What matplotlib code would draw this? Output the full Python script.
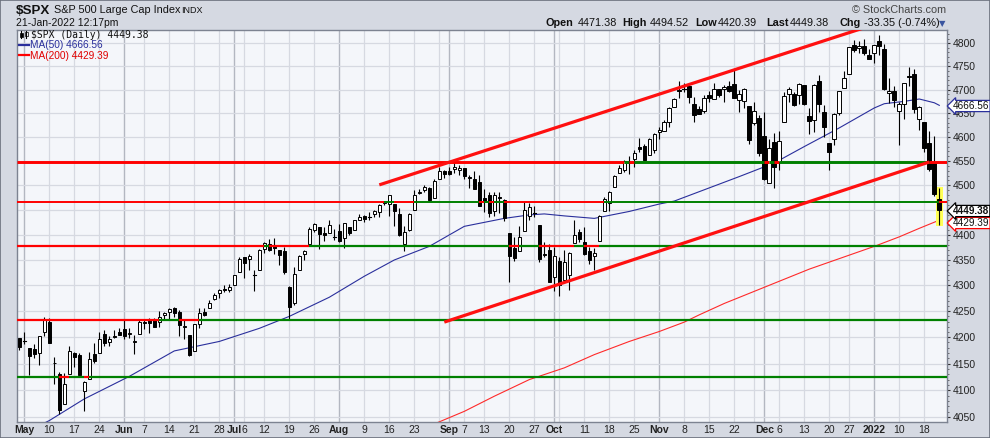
import numpy as np
import pandas as pd
import matplotlib
matplotlib.use("Agg")
import matplotlib.pyplot as plt
import matplotlib.ticker as mticker
from matplotlib.patches import Rectangle
from matplotlib.collections import LineCollection
from matplotlib.lines import Line2D

W, H = 990, 438

# ── Trading calendar ────────────────────────────────────────────────────────
holidays = ["2021-05-31", "2021-07-05", "2021-09-06", "2021-11-25", "2021-12-24", "2022-01-17"]
dates = pd.bdate_range("2021-04-30", "2022-01-21")
dates = dates[~dates.isin(pd.to_datetime(holidays))]

# ── Daily OHLC ($SPX) ───────────────────────────────────────────────────────
opens = [
    4198.10,
    4191.98, 4179.04, 4177.06, 4169.14, 4210.34, 4228.29, 4150.34, 4130.55, 4074.99, 4129.58,
    4169.92, 4165.94, 4098.45, 4121.97, 4168.61, 4170.16, 4205.94, 4191.59, 4201.94, 4210.77,
    4216.52, 4206.82, 4191.43, 4206.05, 4229.34, 4233.81, 4232.99, 4228.56, 4242.90, 4248.31, 4255.28,
    4248.87, 4220.37, 4204.78, 4173.40, 4224.61, 4249.27, 4256.97, 4274.45, 4284.90, 4293.21, 4290.65,
    4300.73, 4326.60, 4356.46, 4351.01, 4321.07, 4329.38, 4372.41, 4381.07, 4380.11, 4369.02, 4367.43,
    4296.40, 4265.11, 4331.13, 4361.27, 4381.20, 4409.58, 4416.38, 4402.95, 4403.59, 4395.12,
    4406.86, 4392.74, 4415.95, 4408.86, 4429.07, 4437.77, 4435.79, 4442.18, 4446.08, 4464.84, 4461.65,
    4462.12, 4440.94, 4382.44, 4410.56, 4450.29, 4484.40, 4490.45, 4493.75, 4474.10, 4513.76, 4529.75,
    4528.80, 4534.48, 4532.42, 4535.38, 4518.09, 4513.02, 4506.92, 4474.81, 4479.33, 4447.49, 4477.09,
    4469.74, 4402.95, 4374.45, 4367.43, 4406.75, 4438.04, 4442.12, 4419.54, 4362.41, 4370.67,
    4317.16, 4348.84, 4309.87, 4319.57, 4383.73, 4406.51, 4385.44, 4368.31, 4358.01, 4386.75, 4447.69,
    4463.72, 4497.34, 4524.42, 4532.24, 4546.12, 4553.69, 4578.69, 4580.22, 4562.84, 4572.87,
    4610.62, 4613.34, 4630.65, 4662.93, 4699.26, 4701.48, 4707.25, 4670.26, 4659.39, 4655.24, 4689.30,
    4679.42, 4701.50, 4700.72, 4708.44, 4712.00, 4678.48, 4675.78, 4664.63, 4628.75, 4640.25,
    4602.82, 4504.73, 4589.49, 4548.37, 4631.97, 4690.86, 4691.00, 4687.64, 4710.30, 4642.99, 4636.46,
    4719.13, 4652.50, 4587.90, 4594.96, 4650.36, 4703.96, 4733.99, 4795.49, 4788.64, 4794.23, 4775.21,
    4778.14, 4804.51, 4787.99, 4693.39, 4697.66, 4655.34, 4669.14, 4728.59, 4733.56, 4637.99, 4632.24,
    4588.03, 4547.35, 4471.38,
]
highs = [
    4198.10,
    4209.39, 4179.04, 4187.72, 4202.70, 4238.04, 4236.39, 4162.04, 4134.73, 4131.58, 4183.13,
    4171.92, 4169.15, 4116.93, 4172.80, 4188.72, 4209.52, 4213.42, 4202.61, 4213.38, 4218.36,
    4234.12, 4217.37, 4204.39, 4233.45, 4232.34, 4236.74, 4237.09, 4249.74, 4248.38, 4255.59, 4257.16,
    4251.89, 4232.29, 4204.78, 4226.24, 4255.84, 4256.60, 4271.28, 4286.12, 4292.14, 4300.52, 4302.43,
    4320.66, 4355.43, 4356.46, 4361.88, 4330.88, 4371.60, 4386.68, 4392.37, 4393.68, 4369.02, 4375.09,
    4299.16, 4336.84, 4359.70, 4369.87, 4415.18, 4422.73, 4416.38, 4415.47, 4429.97, 4412.25,
    4422.18, 4423.79, 4416.17, 4429.76, 4440.82, 4439.39, 4445.21, 4449.44, 4461.77, 4468.37, 4480.26,
    4462.12, 4454.32, 4418.61, 4444.35, 4489.88, 4492.81, 4501.71, 4495.90, 4513.33, 4537.36, 4531.39,
    4537.11, 4545.85, 4541.45, 4535.38, 4521.79, 4529.90, 4520.47, 4492.99, 4485.68, 4486.87, 4485.87,
    4471.52, 4402.95, 4394.87, 4416.75, 4465.40, 4463.12, 4457.30, 4419.54, 4385.57, 4382.55,
    4375.19, 4355.51, 4369.23, 4365.57, 4429.97, 4412.02, 4415.88, 4374.89, 4372.87, 4439.73, 4475.82,
    4488.75, 4520.40, 4540.87, 4551.44, 4559.67, 4572.62, 4598.53, 4584.57, 4597.55, 4608.08,
    4620.34, 4635.15, 4663.46, 4683.00, 4718.50, 4714.92, 4708.53, 4684.85, 4664.55, 4688.47, 4697.42,
    4714.95, 4701.50, 4708.80, 4717.75, 4743.83, 4699.39, 4702.87, 4664.63, 4672.95, 4646.02,
    4652.94, 4595.46, 4608.03, 4612.60, 4694.04, 4705.06, 4695.26, 4713.57, 4710.30, 4660.47, 4712.60,
    4731.99, 4666.70, 4587.90, 4651.14, 4697.67, 4740.74, 4791.49, 4807.02, 4804.06, 4808.93, 4786.83,
    4796.64, 4818.62, 4797.70, 4725.01, 4707.95, 4673.02, 4714.13, 4748.83, 4744.13, 4665.13, 4632.24,
    4611.55, 4602.11, 4494.52,
]
lows = [
    4174.85,
    4188.03, 4128.59, 4160.94, 4147.33, 4201.64, 4188.13, 4111.53, 4056.88, 4074.99, 4129.58,
    4142.69, 4125.99, 4061.41, 4121.97, 4151.72, 4170.16, 4182.52, 4184.11, 4197.78, 4203.57,
    4197.59, 4198.27, 4167.93, 4206.05, 4215.66, 4208.41, 4218.74, 4220.34, 4232.25, 4234.07, 4238.35,
    4202.45, 4196.05, 4164.40, 4173.40, 4217.27, 4241.43, 4256.97, 4271.16, 4274.67, 4287.04, 4287.96,
    4300.73, 4326.60, 4314.37, 4329.79, 4289.37, 4329.38, 4364.03, 4366.92, 4362.36, 4340.70, 4322.53,
    4233.13, 4262.05, 4331.13, 4350.06, 4381.20, 4405.45, 4372.51, 4387.01, 4403.59, 4389.65,
    4384.81, 4373.00, 4400.23, 4408.86, 4429.07, 4424.74, 4430.03, 4436.42, 4435.96, 4460.82, 4437.66,
    4417.83, 4397.59, 4367.73, 4406.80, 4450.29, 4482.28, 4485.66, 4468.99, 4474.10, 4513.76, 4515.80,
    4522.02, 4524.66, 4521.30, 4513.00, 4493.95, 4492.07, 4457.66, 4445.70, 4435.46, 4438.37, 4443.80,
    4427.76, 4305.91, 4347.96, 4367.43, 4406.75, 4430.27, 4436.19, 4346.33, 4355.08, 4306.24,
    4288.52, 4278.94, 4309.87, 4290.49, 4383.73, 4386.22, 4360.59, 4342.09, 4329.92, 4386.75, 4447.69,
    4447.47, 4496.41, 4524.40, 4526.89, 4524.00, 4537.36, 4569.17, 4551.66, 4562.84, 4567.59,
    4595.06, 4613.34, 4621.19, 4662.59, 4681.32, 4694.39, 4670.87, 4630.86, 4648.31, 4650.77, 4672.86,
    4679.42, 4684.41, 4672.78, 4694.22, 4682.17, 4652.66, 4659.89, 4585.43, 4625.26, 4560.00,
    4510.27, 4504.73, 4495.12, 4532.46, 4631.97, 4674.52, 4665.98, 4670.24, 4667.60, 4606.52, 4611.22,
    4651.89, 4600.22, 4531.10, 4583.16, 4645.53, 4703.96, 4733.99, 4780.04, 4778.08, 4775.33, 4765.75,
    4758.17, 4774.27, 4699.44, 4671.26, 4662.74, 4582.24, 4638.27, 4706.71, 4650.29, 4614.75, 4568.70,
    4530.20, 4477.95, 4420.39,
]
closes = [
    4181.17,
    4192.66, 4164.66, 4167.59, 4201.62, 4232.60, 4188.43, 4152.10, 4063.04, 4112.50, 4173.85,
    4163.29, 4127.83, 4115.68, 4159.12, 4155.86, 4197.05, 4188.13, 4195.99, 4200.88, 4204.11,
    4202.04, 4208.12, 4192.85, 4229.89, 4226.52, 4227.26, 4219.55, 4239.18, 4247.44, 4255.15, 4246.59,
    4223.70, 4221.86, 4166.45, 4224.79, 4246.44, 4241.84, 4266.49, 4280.70, 4290.61, 4291.80, 4297.50,
    4319.94, 4352.34, 4343.54, 4358.13, 4320.82, 4369.55, 4384.63, 4369.21, 4374.30, 4360.03, 4327.16,
    4258.49, 4323.06, 4358.69, 4367.48, 4411.79, 4422.30, 4401.46, 4400.64, 4419.15, 4395.26,
    4387.16, 4423.15, 4402.66, 4429.10, 4436.52, 4432.35, 4436.75, 4447.70, 4460.83, 4468.00, 4479.71,
    4448.08, 4400.27, 4405.80, 4441.67, 4479.53, 4486.23, 4496.19, 4470.00, 4509.37, 4528.79, 4522.68,
    4524.09, 4536.95, 4535.43, 4520.03, 4514.07, 4493.28, 4458.58, 4468.73, 4443.05, 4480.70, 4473.75,
    4432.99, 4357.73, 4354.19, 4395.64, 4448.98, 4455.48, 4443.11, 4352.63, 4359.46, 4307.54,
    4357.04, 4300.46, 4345.72, 4363.55, 4399.76, 4391.34, 4361.19, 4350.65, 4363.80, 4438.26, 4471.37,
    4486.46, 4519.63, 4536.19, 4549.78, 4544.90, 4566.48, 4574.79, 4551.68, 4596.42, 4605.38,
    4613.67, 4630.65, 4660.57, 4680.06, 4697.53, 4701.70, 4685.25, 4646.71, 4649.27, 4682.85, 4682.80,
    4700.90, 4688.67, 4704.54, 4697.96, 4682.94, 4690.70, 4701.46, 4594.62, 4655.27, 4567.00,
    4513.04, 4577.10, 4538.43, 4591.67, 4686.75, 4701.21, 4667.45, 4712.02, 4668.97, 4634.09, 4709.85,
    4668.67, 4620.64, 4568.02, 4649.23, 4696.56, 4725.79, 4791.19, 4786.35, 4793.06, 4778.73, 4766.18,
    4796.56, 4793.54, 4700.58, 4696.05, 4677.03, 4670.29, 4713.07, 4726.35, 4659.03, 4662.85, 4577.11,
    4532.76, 4482.73, 4449.38,
]

# ── Moving averages ─────────────────────────────────────────────────────────
ma50_dates = ["2021-05-06", "2021-05-10", "2021-05-19", "2021-06-02", "2021-06-15", "2021-06-28",
              "2021-07-09", "2021-07-19", "2021-07-29", "2021-08-09", "2021-08-17", "2021-08-26",
              "2021-09-07", "2021-09-10", "2021-09-17", "2021-09-24", "2021-09-29", "2021-10-05",
              "2021-10-13", "2021-10-22", "2021-11-01", "2021-11-04", "2021-11-12", "2021-11-23",
              "2021-12-03", "2021-12-13", "2021-12-22", "2022-01-03", "2022-01-05", "2022-01-11",
              "2022-01-14", "2022-01-20", "2022-01-21"]
ma50_vals = [4035, 4044, 4084, 4126, 4174, 4192,
             4217, 4240, 4277, 4318, 4350, 4377,
             4417, 4423, 4433, 4440, 4442, 4438,
             4433, 4447, 4462, 4468, 4491, 4518,
             4546, 4580, 4619, 4661, 4670, 4675,
             4680, 4672, 4666.56]

ma200_dates = ["2021-08-26", "2021-09-07", "2021-09-15", "2021-09-24", "2021-10-05", "2021-10-13",
               "2021-10-22", "2021-11-01", "2021-11-08", "2021-11-11", "2021-11-18", "2021-12-14",
               "2022-01-03", "2022-01-10", "2022-01-14", "2022-01-21"]
ma200_vals = [4034, 4061, 4089, 4120, 4142, 4167,
              4192, 4211, 4229, 4243, 4265, 4332,
              4377, 4396, 4413, 4429.39]

# ── Annotations ─────────────────────────────────────────────────────────────
levels = [4547, 4466, 4378, 4233, 4125]
level_widths = [2.1, 1.4, 1.6, 1.6, 1.6]

upper_tl_dates = ["2021-08-12", "2021-12-30"]
upper_tl_vals = [4501, 4834]
lower_tl_dates = ["2021-08-31", "2022-01-19"]
lower_tl_vals = [4229, 4548]

tick_dates = ["2021-05-03", "2021-05-10", "2021-05-17", "2021-05-24", "2021-06-01", "2021-06-07",
              "2021-06-14", "2021-06-21", "2021-06-28", "2021-07-01", "2021-07-06", "2021-07-12",
              "2021-07-19", "2021-07-26", "2021-08-02", "2021-08-09", "2021-08-16", "2021-08-23",
              "2021-09-01", "2021-09-07", "2021-09-13", "2021-09-20", "2021-09-27", "2021-10-01",
              "2021-10-11", "2021-10-18", "2021-10-25", "2021-11-01", "2021-11-08", "2021-11-15",
              "2021-11-22", "2021-12-01", "2021-12-06", "2021-12-13", "2021-12-20", "2021-12-27",
              "2022-01-03", "2022-01-10", "2022-01-18"]
tick_labels = ["May", "10", "17", "24", "Jun", "7", "14", "21", "28", "Jul", "6", "12", "19", "26",
               "Aug", "9", "16", "23", "Sep", "7", "13", "20", "27", "Oct", "11", "18", "25",
               "Nov", "8", "15", "22", "Dec", "6", "13", "20", "27", "2022", "10", "18"]
month_labels = {"May", "Jun", "Jul", "Aug", "Sep", "Oct", "Nov", "Dec", "2022"}

y_ticks = list(range(4050, 4801, 50))
y_hidden = {4450}   # covered by the last-price tag in the original

# ── Colours ─────────────────────────────────────────────────────────────────
BG = "#d5d9e2"
PLOT_BG = "#f4f6fa"
GRID = "#d6d9e1"
GRID_MONTH = "#b3b7c1"
RED = "#ff0000"
GREEN = "#008000"
NAVY = "#2a2f9c"

plt.rcParams["font.family"] = ["Liberation Sans", "DejaVu Sans"]


def idx(d):
    return dates.get_loc(pd.Timestamp(d))


fig = plt.figure(figsize=(W / 100, H / 100), dpi=100, facecolor=BG)
ax = fig.add_axes([17 / W, 16 / H, 930 / W, 392 / H])
ax.set_facecolor(PLOT_BG)
ax.set_yscale("log")
ax.set_xlim(-0.46, len(dates) - 1 + 1.54)
ax.set_ylim(4041.4, 4829)

# vertical grid: week starts and month starts
n = len(dates)
for i in range(1, n):
    d, p = dates[i], dates[i - 1]
    if d.month != p.month:
        ax.axvline(i, color=GRID_MONTH, lw=1.0, zorder=0)
    elif d.weekday() < p.weekday():
        ax.axvline(i, color=GRID, lw=0.9, zorder=0)
for yv in y_ticks:
    ax.axhline(yv, color=GRID, lw=0.9, zorder=0)

# moving averages
ax.plot([idx(d) for d in ma50_dates], ma50_vals, color=NAVY, lw=0.8, zorder=2)
ax.plot([idx(d) for d in ma200_dates], ma200_vals, color="#ff2a2a", lw=0.8, zorder=2)

# highlight of the current bar
last = n - 1
ax.add_patch(Rectangle((last - 0.73, lows[last] - 3), 1.46, highs[last] - lows[last] + 6,
                       facecolor="#ffff55", edgecolor="none", zorder=2))

# candles
bw = 0.72
for i in range(n):
    o, h, l, c = opens[i], highs[i], lows[i], closes[i]
    ax.plot([i, i], [l, h], color="black", lw=0.8, zorder=3, solid_capstyle="butt")
    lo, hi = min(o, c), max(o, c)
    if hi - lo < 1.0:
        ax.plot([i - bw / 2, i + bw / 2], [c, c], color="black", lw=0.8, zorder=4)
    else:
        ax.add_patch(Rectangle((i - bw / 2, lo), bw, hi - lo,
                               facecolor="white" if c >= o else "black",
                               edgecolor="black", lw=0.7, zorder=4))

# horizontal levels coloured by close above/below (runs of one colour merged)
x_left, x_right = ax.get_xlim()
for lev, lw in zip(levels, level_widths):
    segs, cols = [], []
    run_start, run_col = x_left, GREEN if closes[0] > lev else RED
    for i in range(1, n):
        col = GREEN if closes[i] > lev else RED
        if col != run_col:
            segs.append([(run_start, lev), (i, lev)])
            cols.append(run_col)
            run_start, run_col = i, col
    segs.append([(run_start, lev), (x_right, lev)])
    cols.append(run_col)
    ax.add_collection(LineCollection(segs, colors=cols, linewidths=lw, capstyle="butt", zorder=5))

# channel trendlines
for tl_d, tl_v in [(upper_tl_dates, upper_tl_vals), (lower_tl_dates, lower_tl_vals)]:
    ax.plot([idx(d) for d in tl_d], tl_v, color="#ff1010", lw=2.3, zorder=6, solid_capstyle="butt")

# axes styling
for s in ax.spines.values():
    s.set_color("#7d8391")
    s.set_linewidth(1.0)
ax.yaxis.tick_right()
ax.yaxis.set_major_locator(mticker.FixedLocator(y_ticks))
ax.yaxis.set_major_formatter(mticker.FuncFormatter(
    lambda v, p: "" if round(v) in y_hidden else f"{v:.0f}"))
ax.yaxis.set_minor_locator(mticker.FixedLocator(range(4050, 4830, 10)))
ax.yaxis.set_minor_formatter(mticker.NullFormatter())
ax.tick_params(axis="y", which="major", length=2.5, width=0.8, pad=1.5, labelsize=7.5,
               colors="#333333", labelcolor="#222222")
ax.tick_params(axis="y", which="minor", length=1.5, width=0.6, colors="#555555")

ax.set_xticks([idx(d) for d in tick_dates])
ax.set_xticklabels(tick_labels)
ax.tick_params(axis="x", length=0, pad=2, labelsize=7.5, labelcolor="#222222")
for t in ax.get_xticklabels():
    if t.get_text() in month_labels:
        t.set_fontweight("bold")


# ── Header texts ────────────────────────────────────────────────────────────
def fx(px):
    return px / W


def fy(py):
    return 1 - py / H


fig.text(fx(16), fy(13.5), "$SPX", fontsize=9.6, fontweight="bold", color="#111111", va="baseline")
fig.text(fx(54), fy(13), "S&P 500 Large Cap Index", fontsize=7.8, color="#111111", va="baseline")
fig.text(fx(181), fy(13), "INDX", fontsize=6.5, color="#111111", va="baseline")
fig.text(fx(16), fy(26), "21-Jan-2022 12:17pm", fontsize=7.5, color="#111111", va="baseline")
fig.text(fx(946), fy(13), "\u00a9 StockCharts.com", fontsize=7.8, color="#444444", va="baseline", ha="right")

hdr = [(545.5, "Open", True), (577.5, f"{opens[-1]:.2f}", False),
       (622.5, "High", True), (650, f"{highs[-1]:.2f}", False),
       (695, "Low", True), (718, f"{lows[-1]:.2f}", False),
       (766.5, "Last", True), (790, f"{closes[-1]:.2f}", False),
       (839, "Chg", True),
       (864, f"{closes[-1] - closes[-2]:.2f} ({(closes[-1] / closes[-2] - 1) * 100:.2f}%)", False)]
for px, txt, bold in hdr:
    fig.text(fx(px), fy(26), txt, fontsize=7.8, color="#111111", va="baseline",
             fontweight="bold" if bold else "normal")
fig.text(fx(939), fy(26), "\u25bc", fontsize=6, color="#3a55a0", va="baseline", family="DejaVu Sans")

# in-plot legend
fig.add_artist(Line2D([fx(21), fx(21)], [fy(31), fy(38)], color="black", lw=0.8))
fig.add_artist(Rectangle((fx(19.5), fy(37)), 3 / W, 4 / H, facecolor="black", edgecolor="black", lw=0.5))
fig.add_artist(Line2D([fx(26), fx(26)], [fy(31), fy(38)], color="black", lw=0.8))
fig.add_artist(Rectangle((fx(24.5), fy(36)), 3 / W, 4 / H, facecolor="white", edgecolor="black", lw=0.5))
fig.text(fx(31), fy(38.5), f"$SPX (Daily) {closes[-1]:.2f}", fontsize=7, family="DejaVu Sans Mono",
         color="#111111", va="baseline")
fig.add_artist(Line2D([fx(19), fx(29)], [fy(44.5), fy(44.5)], color=NAVY, lw=1.6))
fig.text(fx(30), fy(48.5), f"MA(50) {ma50_vals[-1]:.2f}", fontsize=7.3, color=NAVY, va="baseline")
fig.add_artist(Line2D([fx(19), fx(29)], [fy(55), fy(55)], color=RED, lw=1.6))
fig.text(fx(30), fy(59), f"MA(200) {ma200_vals[-1]:.2f}", fontsize=7.3, color="#e00000", va="baseline")

# right-hand value tags (MA200 tag sits beneath the last-price tag)
tags = [(ma50_vals[-1], NAVY, "normal", 106, 10),
        (ma200_vals[-1], RED, "normal", 223, 10),
        (closes[-1], "black", "bold", 211, 11)]
for val, ec, fw, py, z in tags:
    fig.text(fx(953), fy(py), f"{val:.2f}", fontsize=7.2, fontweight=fw, color="#111111",
             va="center", ha="left", zorder=z,
             bbox=dict(boxstyle="larrow,pad=0.06", facecolor="white", edgecolor=ec, lw=0.9))

# outer border
fig.add_artist(Rectangle((0, 0), 1, 1, transform=fig.transFigure, fill=False,
                         edgecolor="#6b707c", lw=1.2))

fig.savefig("out.png", dpi=100, facecolor=BG)
